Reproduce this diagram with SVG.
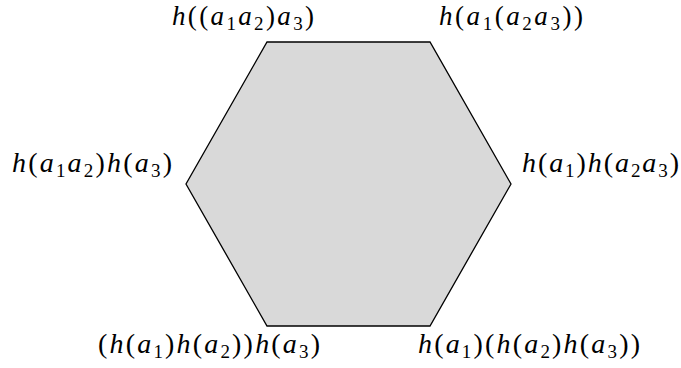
<svg xmlns="http://www.w3.org/2000/svg" width="681" height="368" viewBox="0 0 681 368">
<style>
text{font-family:"Liberation Serif","Times New Roman",serif;font-size:28px;fill:#000}
.t{font-size:27px}
.i{font-style:italic}
.s{font-size:19px}
</style>
<rect width="681" height="368" fill="#fff"/>
<g id="connectors">
<polygon points="267,42 430,42 511,184 430,326 267,326 186,184" fill="#d9d9d9" stroke="#000" stroke-width="1.3" stroke-linejoin="miter"/>
</g>
<g id="n_top_left">
<text class="t" x="172" y="24.5" textLength="142" lengthAdjust="spacing"><tspan class="i">h</tspan>((<tspan class="i">a</tspan><tspan class="s" dy="5">1</tspan><tspan class="i" dy="-5">a</tspan><tspan class="s" dy="5">2</tspan><tspan dy="-5">)</tspan><tspan class="i">a</tspan><tspan class="s" dy="5">3</tspan><tspan dy="-5">)</tspan></text>
</g>
<g id="n_top_right">
<text class="t" x="439" y="24.5" textLength="144" lengthAdjust="spacing"><tspan class="i">h</tspan>(<tspan class="i">a</tspan><tspan class="s" dy="5">1</tspan><tspan dy="-5">(</tspan><tspan class="i">a</tspan><tspan class="s" dy="5">2</tspan><tspan class="i" dy="-5">a</tspan><tspan class="s" dy="5">3</tspan><tspan dy="-5">))</tspan></text>
</g>
<g id="n_left">
<text x="12" y="172" textLength="160" lengthAdjust="spacing"><tspan class="i">h</tspan>(<tspan class="i">a</tspan><tspan class="s" dy="5">1</tspan><tspan class="i" dy="-5">a</tspan><tspan class="s" dy="5">2</tspan><tspan dy="-5">)</tspan><tspan class="i">h</tspan>(<tspan class="i">a</tspan><tspan class="s" dy="5">3</tspan><tspan dy="-5">)</tspan></text>
</g>
<g id="n_right">
<text x="522" y="172" textLength="157" lengthAdjust="spacing"><tspan class="i">h</tspan>(<tspan class="i">a</tspan><tspan class="s" dy="5">1</tspan><tspan dy="-5">)</tspan><tspan class="i">h</tspan>(<tspan class="i">a</tspan><tspan class="s" dy="5">2</tspan><tspan class="i" dy="-5">a</tspan><tspan class="s" dy="5">3</tspan><tspan dy="-5">)</tspan></text>
</g>
<g id="n_bottom_left">
<text x="98" y="353" textLength="222" lengthAdjust="spacing">(<tspan class="i">h</tspan>(<tspan class="i">a</tspan><tspan class="s" dy="5">1</tspan><tspan dy="-5">)</tspan><tspan class="i">h</tspan>(<tspan class="i">a</tspan><tspan class="s" dy="5">2</tspan><tspan dy="-5">))</tspan><tspan class="i">h</tspan>(<tspan class="i">a</tspan><tspan class="s" dy="5">3</tspan><tspan dy="-5">)</tspan></text>
</g>
<g id="n_bottom_right">
<text x="418" y="353" textLength="222" lengthAdjust="spacing"><tspan class="i">h</tspan>(<tspan class="i">a</tspan><tspan class="s" dy="5">1</tspan><tspan dy="-5">)(</tspan><tspan class="i">h</tspan>(<tspan class="i">a</tspan><tspan class="s" dy="5">2</tspan><tspan dy="-5">)</tspan><tspan class="i">h</tspan>(<tspan class="i">a</tspan><tspan class="s" dy="5">3</tspan><tspan dy="-5">))</tspan></text>
</g>
</svg>
